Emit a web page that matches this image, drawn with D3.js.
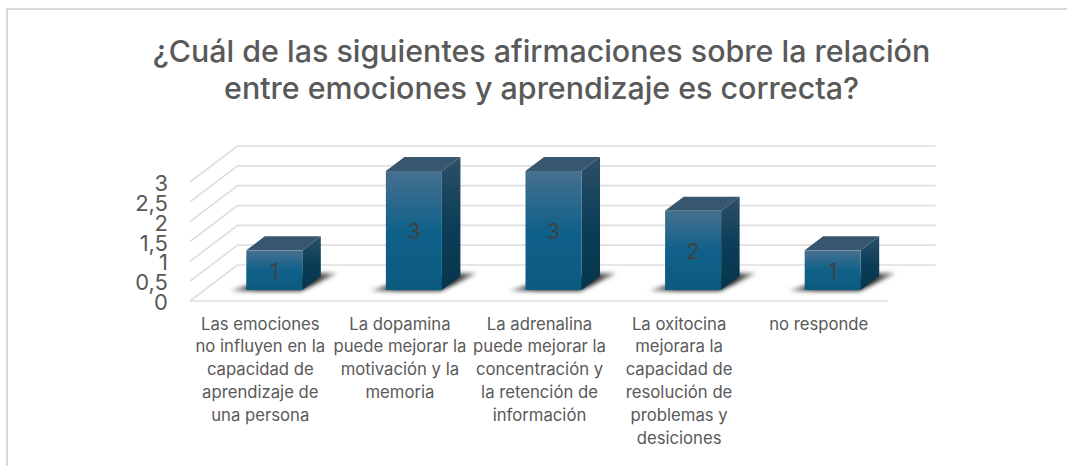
<!DOCTYPE html>
<html>
<head>
<meta charset="utf-8">
<script src="https://cdn.jsdelivr.net/npm/d3@7"></script>
<style>
html, body { margin: 0; padding: 0; background: #fff; }
svg { display: block; }
text { font-family: Inter, sans-serif; }
</style>
</head>
<body>
<svg width="1067" height="466"></svg>
<script>
const titleLines = [
    "¿Cuál de las siguientes afirmaciones sobre la relación",
    "entre emociones y aprendizaje es correcta?"
];
const categories = [
    ["Las emociones", "no influyen en la", "capacidad de", "aprendizaje de", "una persona"],
    ["La dopamina", "puede mejorar la", "motivación y la", "memoria"],
    ["La adrenalina", "puede mejorar la", "concentración y", "la retención de", "información"],
    ["La oxitocina", "mejorara la", "capacidad de", "resolución de", "problemas y", "desiciones"],
    ["no responde"]
];
const values = [1, 3, 3, 2, 1];
const yTicks = [0, 0.5, 1, 1.5, 2, 2.5, 3];

const svg = d3.select("svg");

const xScale = d3.scaleBand()
    .domain(d3.range(categories.length))
    .range([190, 888]);

const yScale = d3.scaleLinear()
    .domain([0, 3])
    .range([301, 182]);

// oblique projection, d goes from front (0) to back wall (1)
const depthX = 47.5;
const depthY = -36;
const project = (x, v, d) => [x + depthX * d, yScale(v) + depthY * d];
const barFront = 0.305;
const barBack = 0.695;
const barWidth = 56;

const defs = svg.append("defs");

function addGradient(id, stops, horizontal) {
    const g = defs.append("linearGradient")
        .attr("id", id)
        .attr("x1", 0).attr("y1", 0)
        .attr("x2", horizontal ? 1 : 0).attr("y2", horizontal ? 0 : 1);
    stops.forEach(s => g.append("stop").attr("offset", s[0]).attr("stop-color", s[1]));
}
addGradient("frontFill", [[0, "#47708f"], [0.5, "#10618a"], [1, "#0b5a80"]]);
addGradient("sideFill", [[0, "#2d5068"], [0.5, "#0c3e58"], [1, "#06364d"]]);
addGradient("shadowFill", [[0, "#a8a8a8"], [0.24, "#222"], [0.78, "#222"], [1, "#a0a0a0"]], true);

defs.append("filter")
    .attr("id", "blur")
    .attr("x", "-20%").attr("y", "-40%")
    .attr("width", "140%").attr("height", "180%")
    .append("feGaussianBlur")
    .attr("stdDeviation", 2.3);

// chart frame, only left and top edges are in the crop
svg.append("path")
    .attr("d", "M7,466 V9 H1067")
    .attr("fill", "none")
    .attr("stroke", "#d9d9d9")
    .attr("stroke-width", 2);

svg.append("g")
    .selectAll("text")
    .data(titleLines)
    .enter().append("text")
    .attr("x", 541.5)
    .attr("y", (d, i) => 61.5 + i * 37.5)
    .attr("text-anchor", "middle")
    .attr("font-size", 30.4)
    .attr("font-weight", 500)
    .attr("fill", "#595959")
    .text(d => d);

// gridlines run along the side wall and then the back wall
const plotLeft = xScale.range()[0];
const plotRight = xScale.range()[1];
svg.append("g")
    .selectAll("path")
    .data(yTicks)
    .enter().append("path")
    .attr("fill", "none")
    .attr("stroke", "#dedede")
    .attr("stroke-width", 1.6)
    .attr("d", d => d3.line()([project(plotLeft, d, 0), project(plotLeft, d, 1), project(plotRight, d, 1)]));

svg.append("line")
    .attr("x1", plotLeft)
    .attr("x2", plotRight)
    .attr("y1", yScale(0))
    .attr("y2", yScale(0))
    .attr("stroke", "#dedede")
    .attr("stroke-width", 1.6);

const yAxis = d3.axisLeft(yScale)
    .tickValues(yTicks)
    .tickSize(0)
    .tickPadding(22)
    .tickFormat(d => String(d).replace(".", ","));

svg.append("g")
    .attr("transform", `translate(${plotLeft},1.5)`)
    .call(yAxis)
    .call(g => g.select(".domain").remove())
    .selectAll("text")
    .attr("font-family", "Inter, sans-serif")
    .attr("font-size", 22)
    .attr("fill", "#595959");

const bars = svg.append("g")
    .selectAll("g")
    .data(values)
    .enter().append("g");

const barLeft = i => xScale(i) + xScale.bandwidth() / 2 - barWidth / 2;

// shadow on the floor
bars.append("path")
    .attr("fill", "url(#shadowFill)")
    .attr("filter", "url(#blur)")
    .attr("d", (d, i) => {
        const x = barLeft(i);
        return d3.line()([
            project(x - 15, 0, barFront - 0.03),
            project(x + barWidth, 0, barFront - 0.03),
            project(x + barWidth + 13, 0, 0.77),
            project(x + barWidth - 10, 0, 0.77),
            project(x + 2, 0, 0.55)
        ]) + "Z";
    });

// top face
bars.append("path")
    .attr("fill", "#37576f")
    .attr("d", (d, i) => {
        const x = barLeft(i);
        return d3.line()([
            project(x, d, barFront),
            project(x + barWidth, d, barFront),
            project(x + barWidth, d, barBack),
            project(x, d, barBack)
        ]) + "Z";
    });

// right side face
bars.append("path")
    .attr("fill", "url(#sideFill)")
    .attr("d", (d, i) => {
        const x = barLeft(i) + barWidth;
        return d3.line()([
            project(x, d, barFront),
            project(x, d, barBack),
            project(x, 0, barBack),
            project(x, 0, barFront)
        ]) + "Z";
    });

// front face
bars.append("rect")
    .attr("fill", "url(#frontFill)")
    .attr("x", (d, i) => project(barLeft(i), d, barFront)[0])
    .attr("y", d => project(0, d, barFront)[1])
    .attr("width", barWidth)
    .attr("height", d => yScale(0) - yScale(d));

bars.append("text")
    .attr("x", (d, i) => project(barLeft(i) + barWidth / 2, d, barFront)[0])
    .attr("y", d => project(0, d / 2, barFront)[1] + 1)
    .attr("dy", "0.36em")
    .attr("text-anchor", "middle")
    .attr("font-size", 21)
    .attr("fill", "#404040")
    .text(d => d);

const labels = svg.append("g")
    .selectAll("text")
    .data(categories)
    .enter().append("text")
    .attr("text-anchor", "middle")
    .attr("font-size", 16.7)
    .attr("fill", "#595959");

labels.selectAll("tspan")
    .data((d, i) => d.map(line => ({ line, i })))
    .enter().append("tspan")
    .attr("x", d => xScale(d.i) + xScale.bandwidth() / 2 + 0.5)
    .attr("y", (d, j) => 329.5 + j * 22.8)
    .text(d => d.line);
</script>
</body>
</html>
